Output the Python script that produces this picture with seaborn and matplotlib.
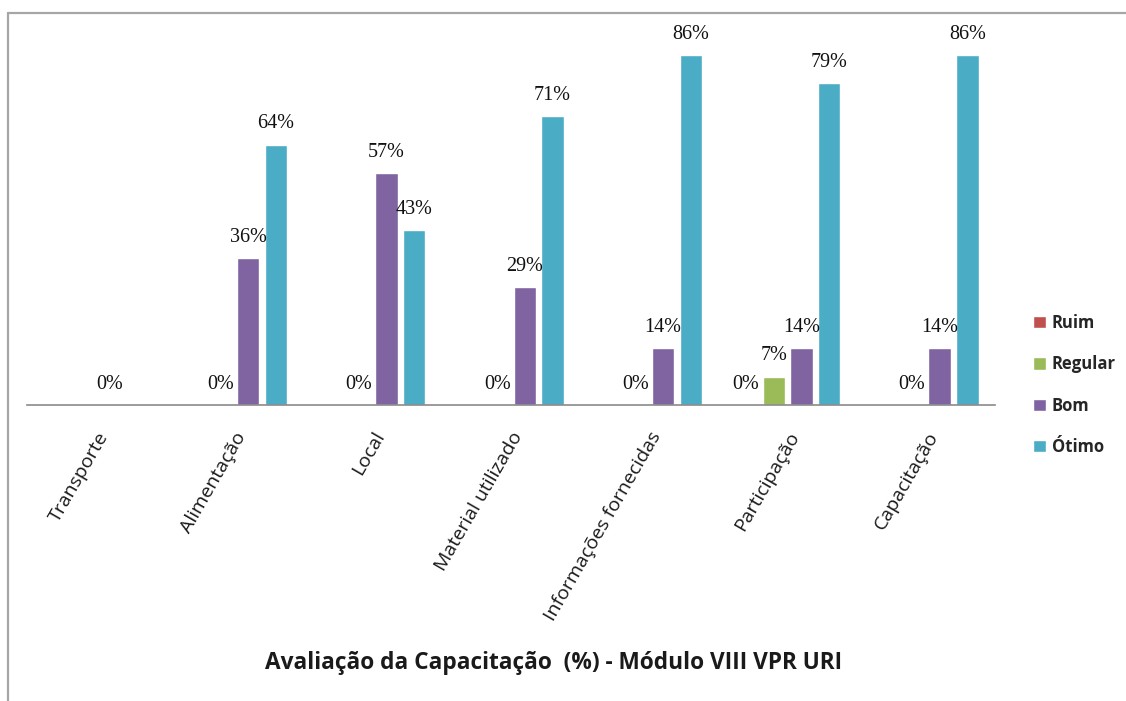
import numpy as np
import pandas as pd
import matplotlib
matplotlib.use("Agg")
import matplotlib.pyplot as plt
from matplotlib.lines import Line2D
from matplotlib.font_manager import FontProperties
import seaborn as sns

categories = ["Transporte", "Alimentação", "Local", "Material utilizado",
              "Informações fornecidas", "Participação", "Capacitação"]
series = ["Ruim", "Regular", "Bom", "Ótimo"]
ruim = [None, None, None, None, None, 0, None]
regular = [None, 0, 0, 0, 0, 7, 0]
bom = [0, 36, 57, 29, 14, 14, 14]
otimo = [None, 64, 43, 71, 86, 79, 86]
colors = ["#c0504d", "#9bbb59", "#8064a2", "#4bacc6"]
title = "Avaliação da Capacitação  (%) - Módulo VIII VPR URI"

rows = []
for s, vals in zip(series, [ruim, regular, bom, otimo]):
    for c, v in zip(categories, vals):
        if v is not None:
            rows.append({"categoria": c, "serie": s, "valor": v})
df = pd.DataFrame(rows)

sns.set_style("white")
plt.rcParams["font.family"] = ["Open Sans", "DejaVu Sans"]

W, H = 1126, 701
fig = plt.figure(figsize=(W / 100, H / 100), dpi=100)
ax = fig.add_axes([27 / W, (H - 405) / H, 968 / W, 385 / H])

sns.barplot(data=df, x="categoria", y="valor", hue="serie", order=categories,
            hue_order=series, palette=colors, width=0.8, gap=0.19,
            saturation=1, ax=ax, legend=True)

for cont in ax.containers:
    ax.bar_label(cont, fmt="{:.0f}%", padding=8, fontsize=14.5,
                 family="Liberation Serif", color="#111111")

ax.set_xlim(-0.5, len(categories) - 0.5)
ax.set_ylim(0, 385 / 4.07)
ax.set_xlabel("")
ax.set_ylabel("")
ax.set_yticks([])
for side in ["left", "right", "top"]:
    ax.spines[side].set_visible(False)
ax.spines["bottom"].set_color("#8a8a8a")
ax.spines["bottom"].set_linewidth(1.2)
ax.tick_params(axis="x", length=0, pad=17)
for lab in ax.get_xticklabels():
    lab.set_rotation(60)
    lab.set_ha("right")
    lab.set_va("top")
    lab.set_rotation_mode("anchor")
    lab.set_fontsize(14)
    lab.set_color("#1a1a1a")

handles, labels = ax.get_legend_handles_labels()
ax.get_legend().remove()
fig.legend(handles, labels, loc="center left",
           bbox_to_anchor=(1025 / W, 1 - 385 / H), frameon=False,
           handlelength=0.75, handleheight=0.75, handletextpad=0.35,
           labelspacing=1.4, borderpad=0,
           prop=FontProperties(family="Open Sans", weight="bold", size=12))

fig.text(554 / W, 1 - 663 / H, title, ha="center", va="center",
         fontsize=16.3, fontweight="bold", color="#1a1a1a")

fig.add_artist(Line2D([8 / W, 1], [1 - 13 / H, 1 - 13 / H],
                      transform=fig.transFigure, color="#a6a6a6", lw=1.6))
fig.add_artist(Line2D([8 / W, 8 / W], [0, 1 - 13 / H],
                      transform=fig.transFigure, color="#a6a6a6", lw=1.6))

fig.savefig("out.png", dpi=100, facecolor="white")
